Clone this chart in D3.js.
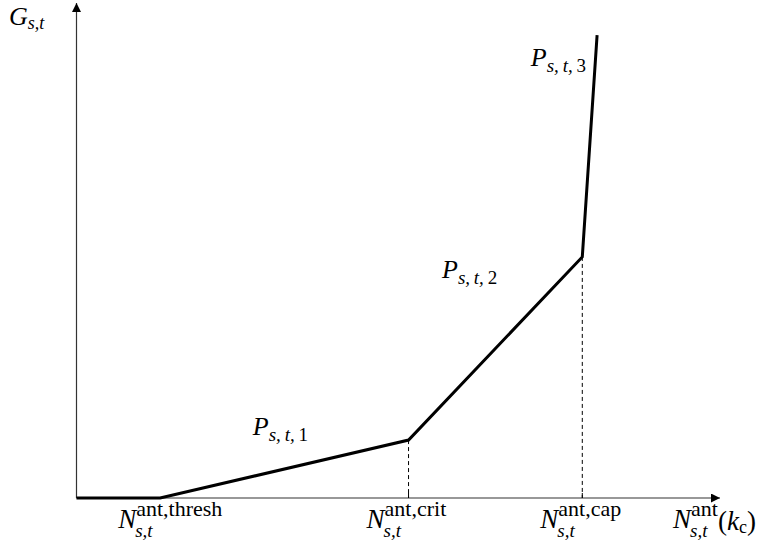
<!DOCTYPE html>
<html>
<head>
<meta charset="utf-8">
<script src="https://cdn.jsdelivr.net/npm/d3@7"></script>
<style>
  body { margin: 0; background: #fff; }
</style>
</head>
<body>
<div id="chart"></div>
<script>
// Piecewise-linear cost curve: breakpoints (arbitrary units, axes have no ticks)
const curveX = [0, 13.0, 51.6, 78.6, 80.9];
const curveY = [0, 0, 11.7, 48.7, 93.5];

// Breakpoints that get a dashed drop line
const markIdx = [2, 3];
// x-axis labels under the breakpoints N^{...}_{s,t}
const xLabels = [
  { x: 13.0, sup: "ant,thresh" },
  { x: 51.6, sup: "ant,crit" },
  { x: 78.6, sup: "ant,cap" }
];
// Segment labels P_{s,t,i}
const segLabels = [
  { x: 27.4, y: 12.7, sub: "s,\u2009t,\u2009", num: "1" },
  { x: 56.8, y: 44.4, sub: "s,\u2009t,\u2009", num: "2" },
  { x: 70.6, y: 87.2, sub: "s,\u2009t,\u2009", num: "3" }
];

const FONT = "Liberation Serif";
const width = 760, height = 546;
const x = d3.scaleLinear().domain([0, 100]).range([76.5, 720]);
const y = d3.scaleLinear().domain([0, 100]).range([498, 3]);

const svg = d3.select("#chart").append("svg")
  .attr("width", width).attr("height", height)
  .style("font-family", FONT);

// Arrow head for the axes
svg.append("defs").append("marker")
  .attr("id", "arrow")
  .attr("viewBox", "0 -5 10 10")
  .attr("refX", 10).attr("refY", 0)
  .attr("markerWidth", 17).attr("markerHeight", 9)
  .attr("markerUnits", "userSpaceOnUse")
  .attr("orient", "auto")
  .append("path").attr("d", "M0,-5L10,0L0,5Z").attr("fill", "#000");

// Axes
svg.append("line")
  .attr("x1", x(0)).attr("y1", y(0)).attr("x2", x(100)).attr("y2", y(0))
  .attr("stroke", "#333").attr("stroke-width", 1.2)
  .attr("marker-end", "url(#arrow)");
svg.append("line")
  .attr("x1", x(0)).attr("y1", y(0)).attr("x2", x(0)).attr("y2", y(100))
  .attr("stroke", "#333").attr("stroke-width", 1.2)
  .attr("marker-end", "url(#arrow)");

// Dashed drop lines + small tick on the axis
markIdx.forEach((i) => {
  svg.append("line")
    .attr("x1", x(curveX[i])).attr("x2", x(curveX[i]))
    .attr("y1", y(curveY[i])).attr("y2", y(0))
    .attr("stroke", "#000").attr("stroke-width", 1)
    .attr("stroke-dasharray", "4,3");
  svg.append("line")
    .attr("x1", x(curveX[i])).attr("x2", x(curveX[i]))
    .attr("y1", y(0) - 5).attr("y2", y(0))
    .attr("stroke", "#000").attr("stroke-width", 1);
});

// The curve
const pts = curveX.map((d, i) => [d, curveY[i]]);
svg.append("path")
  .datum(pts)
  .attr("fill", "none")
  .attr("stroke", "#000")
  .attr("stroke-width", 3)
  .attr("stroke-linejoin", "miter")
  .attr("d", d3.line().x((d) => x(d[0])).y((d) => y(d[1])));

// Helper: italic letter with optional superscript / subscript
function symbol(px, py, main, opts) {
  const t = svg.append("text").attr("x", px).attr("y", py)
    .attr("font-size", opts.size);
  t.append("tspan").attr("font-style", "italic").text(main);
  const w = t.node().getComputedTextLength();
  if (opts.sup) {
    t.append("tspan").attr("x", px + w).attr("y", py - opts.supUp)
      .attr("font-size", opts.supSize).text(opts.sup);
  }
  if (opts.sub) {
    t.append("tspan").attr("x", px + w - (opts.subShift || 0))
      .attr("y", py + opts.subDown)
      .attr("font-size", opts.subSize).attr("font-style", "italic").text(opts.sub);
    if (opts.num) {
      t.append("tspan").attr("font-size", opts.subSize).text(opts.num);
    }
  }
  return px + w;
}

// Y label
symbol(9, 25, "G", { size: 26, sub: "s,t", subDown: 4, subSize: 18 });

// X labels
xLabels.forEach((d) => {
  symbol(x(d.x) - 42, 528, "N", {
    size: 27, sup: d.sup, supUp: 12, supSize: 22,
    sub: "s,t", subDown: 9, subSize: 19, subShift: 1
  });
});

// Axis title N^{ant}_{s,t}(k_c)
symbol(673, 528, "N", {
  size: 27, sup: "ant", supUp: 12, supSize: 22,
  sub: "s,t", subDown: 9, subSize: 19, subShift: 1
});
const tl = svg.append("text").attr("x", 718).attr("y", 530).attr("font-size", 27);
tl.append("tspan").text("(");
tl.append("tspan").attr("font-style", "italic").text("k");
tl.append("tspan").attr("dy", 3).attr("font-size", 18).text("c");
tl.append("tspan").attr("dy", -3).text(")");

// Segment labels
segLabels.forEach((d) => {
  symbol(x(d.x), y(d.y), "P", {
    size: 26, sub: d.sub, num: d.num, subDown: 6, subSize: 19, subShift: 0
  });
});
</script>
</body>
</html>
